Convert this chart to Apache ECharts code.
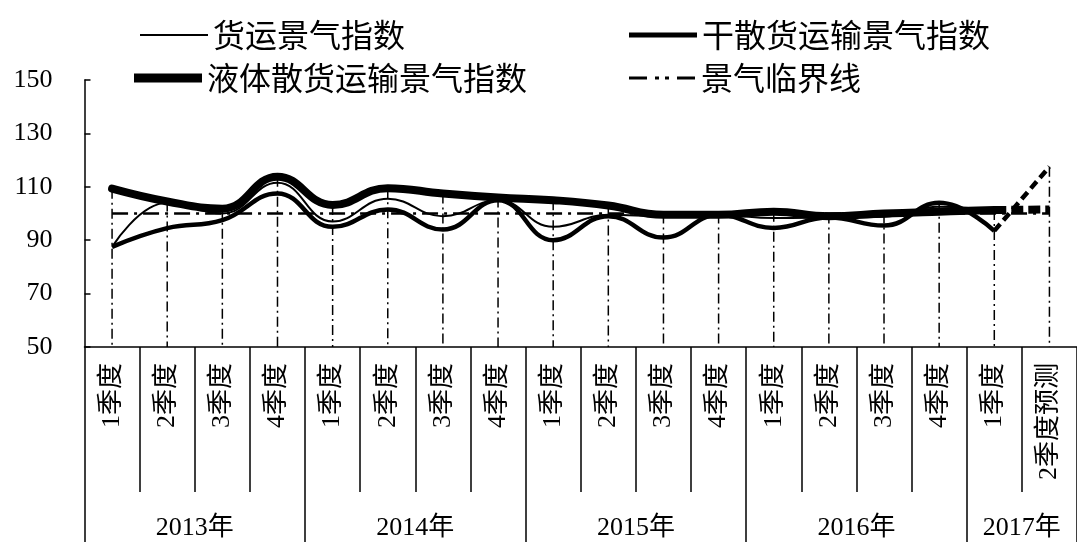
<!DOCTYPE html>
<html>
<head>
<meta charset="utf-8">
<script src="https://cdn.jsdelivr.net/npm/echarts@6/dist/echarts.min.js"></script>
<style>
html,body{margin:0;padding:0;background:#fff;}
#chart{width:1077px;height:542px;}
</style>
</head>
<body>
<div id="chart"></div>
<script>
// ---- data ----
const quarters = ['1季度','2季度','3季度','4季度','1季度','2季度','3季度','4季度','1季度','2季度','3季度','4季度','1季度','2季度','3季度','4季度','1季度','2季度预测'];
const years = ['2013年','2014年','2015年','2016年','2017年'];
const yearBounds = [0, 4, 8, 12, 16, 18];
const yearCenters = [2, 6, 10, 14, 17];
const yTicks = [50, 70, 90, 110, 130, 150];

const freightIndex = [87.5, 104, 100, 111.5, 97, 105.5, 99, 105, 95, 99.5, 99, 99.5, 98.3, 98.5, 98.8, 102.5, 101, null];
const dryBulkIndex = [87.5, 94.5, 97.5, 107.5, 95, 101.5, 94, 105, 90, 99, 91, 99.5, 94.6, 98.5, 95.5, 104, 93.5, null];
const liquidBulkIndex = [109.3, 104.5, 101.8, 113.8, 103.2, 109.5, 107.5, 106, 105, 103, 99.5, 99.5, 100.7, 99, 100, 100.7, 101.3, null];
const dryBulkForecast = [null, null, null, null, null, null, null, null, null, null, null, null, null, null, null, null, 93.5, 117.5];
const liquidBulkForecast = [null, null, null, null, null, null, null, null, null, null, null, null, null, null, null, null, 101.3, 101.5];
const criticalLine = [100, 100, 100, 100, 100, 100, 100, 100, 100, 100, 100, 100, 100, 100, 100, 100, 100, 100];

const names = ['货运景气指数', '干散货运输景气指数', '液体散货运输景气指数', '景气临界线'];

// drop lines from highest point at each category
const dropTop = quarters.map((q, i) => {
  const vals = [freightIndex[i], dryBulkIndex[i], liquidBulkIndex[i], dryBulkForecast[i], liquidBulkForecast[i], criticalLine[i]]
    .filter(v => v != null);
  return [i, Math.max.apply(null, vals)];
});

const serif = "'Liberation Serif', 'Times New Roman', 'Noto Sans CJK SC', serif";
const cjk = "'Noto Sans CJK SC', 'Liberation Serif', sans-serif";

const chart = echarts.init(document.getElementById('chart'), null, {renderer: 'canvas'});

const legendBase = {
  itemWidth: 68,
  itemGap: 0,
  textStyle: {fontFamily: cjk, fontSize: 32, color: '#000'},
  selectedMode: false
};
const dashDotIcon = 'path://M0,0h18v3h-18z M26,0h4v3h-4z M36,0h4v3h-4z M48,0h18v3h-18z';

chart.setOption({
  backgroundColor: '#fff',
  animation: false,
  legend: [
    Object.assign({}, legendBase, {data: [{name: names[0], icon: 'rect'}], itemHeight: 2, left: 135, top: 14}),
    Object.assign({}, legendBase, {data: [{name: names[1], icon: 'rect'}], itemHeight: 5, left: 624, top: 14}),
    Object.assign({}, legendBase, {data: [{name: names[2], icon: 'rect'}], itemHeight: 9, left: 129, top: 57}),
    Object.assign({}, legendBase, {data: [{name: names[3], icon: dashDotIcon}], itemHeight: 3, left: 624, top: 57})
  ],
  grid: {left: 84.5, right: -11, top: 80, bottom: 195, containLabel: false},
  xAxis: [
    {
      type: 'category',
      data: quarters,
      boundaryGap: true,
      axisLine: {show: true, lineStyle: {color: '#000', width: 1.5}},
      axisTick: {show: true, interval: 0, inside: false, length: 145, lineStyle: {color: '#000', width: 1.5}},
      axisLabel: {interval: 0, rotate: 90, margin: 16, fontFamily: serif, fontSize: 26, color: '#000'},
      splitLine: {show: false}
    },
    {
      type: 'value',
      min: 0,
      max: 18,
      position: 'bottom',
      axisLine: {show: false},
      axisTick: {show: true, customValues: yearBounds, inside: false, length: 195, lineStyle: {color: '#000', width: 1.5}},
      axisLabel: {
        show: true,
        customValues: yearCenters,
        margin: 168,
        fontFamily: serif,
        fontSize: 26,
        color: '#000',
        formatter: function (v) {
          const k = yearCenters.indexOf(v);
          return k >= 0 ? years[k] : '';
        }
      },
      splitLine: {show: false}
    }
  ],
  yAxis: {
    type: 'value',
    min: 50,
    max: 150,
    interval: 20,
    axisLine: {show: true, lineStyle: {color: '#000', width: 1.5}},
    axisTick: {show: true, inside: true, length: 6, lineStyle: {color: '#000', width: 1.5}},
    axisLabel: {margin: 32, fontFamily: serif, fontSize: 26, color: '#000', customValues: yTicks},
    splitLine: {show: false}
  },
  series: [
    {
      name: 'drop',
      type: 'custom',
      data: dropTop,
      silent: true,
      renderItem: function (params, api) {
        const top = api.coord([api.value(0), api.value(1)]);
        const bot = api.coord([api.value(0), 50]);
        return {
          type: 'line',
          shape: {x1: top[0], y1: top[1], x2: bot[0], y2: bot[1]},
          style: {stroke: '#000', lineWidth: 1.5, lineDash: [10, 4, 2, 4]}
        };
      },
      z: 1
    },
    {
      name: names[3],
      type: 'line',
      data: criticalLine,
      symbol: 'none',
      lineStyle: {color: '#000', width: 2.5, type: [16, 6, 3, 6]},
      itemStyle: {color: '#000'},
      z: 2
    },
    {
      name: names[1],
      type: 'line',
      data: dryBulkIndex,
      smooth: 0.45,
      symbol: 'none',
      lineStyle: {color: '#000', width: 4.5},
      itemStyle: {color: '#000'},
      z: 3
    },
    {
      name: 'dryForecast',
      type: 'line',
      data: dryBulkForecast,
      symbol: 'none',
      lineStyle: {color: '#000', width: 4.5, type: [9, 5]},
      z: 3
    },
    {
      name: names[2],
      type: 'line',
      data: liquidBulkIndex,
      smooth: 0.45,
      symbol: 'none',
      lineStyle: {color: '#000', width: 8, cap: 'round'},
      itemStyle: {color: '#000'},
      z: 4
    },
    {
      name: 'liquidForecast',
      type: 'line',
      data: liquidBulkForecast,
      symbol: 'none',
      lineStyle: {color: '#000', width: 8, type: [12, 5]},
      z: 4
    },
    {
      name: names[0],
      type: 'line',
      data: freightIndex,
      smooth: 0.45,
      symbol: 'none',
      lineStyle: {color: '#000', width: 2},
      itemStyle: {color: '#000'},
      z: 5
    }
  ]
});
</script>
</body>
</html>
